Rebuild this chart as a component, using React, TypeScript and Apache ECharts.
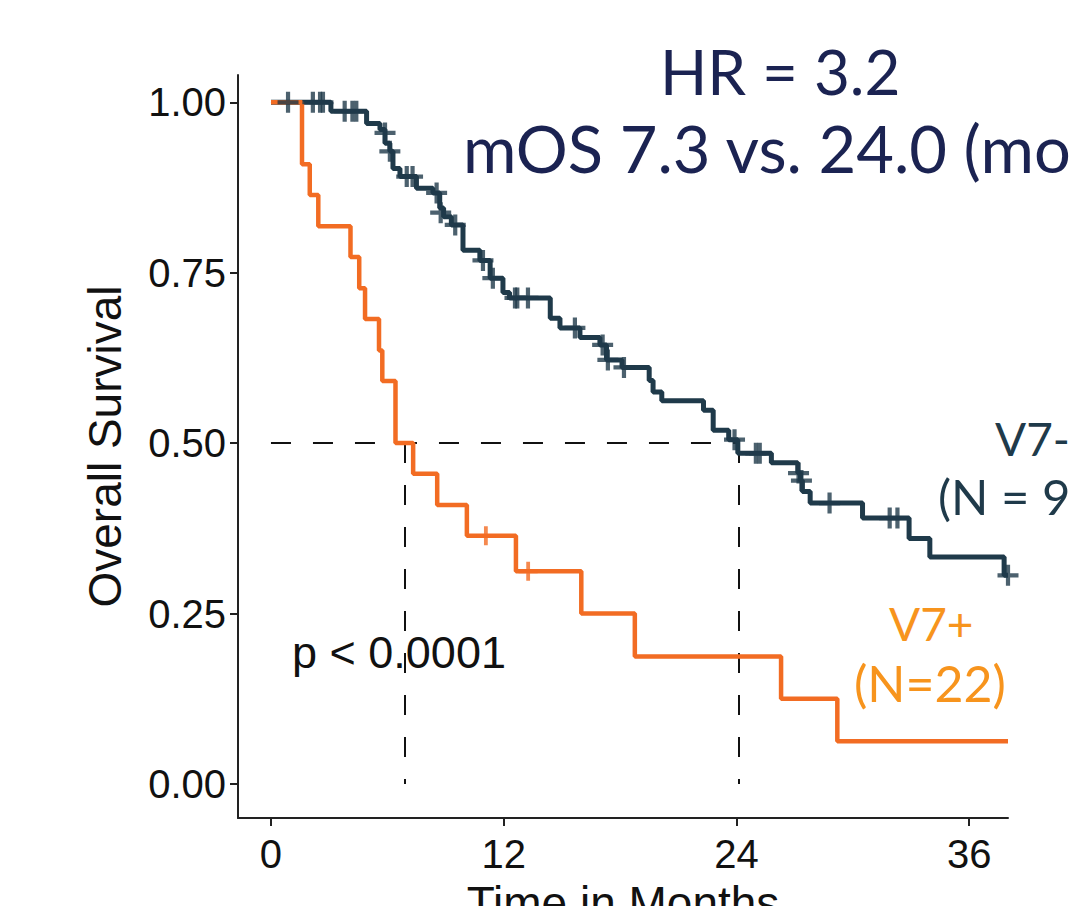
import React, { useEffect, useRef } from "react";
import * as echarts from "echarts";

// Kaplan-Meier steps: [time (months), survival after the event]
const v7PlusSteps: [number, number][] = [
  [0, 1], [1.6, 0.909], [2.0, 0.864], [2.44, 0.818], [4.1, 0.773], [4.55, 0.727],
  [4.85, 0.682], [5.57, 0.636], [5.74, 0.591], [6.42, 0.5], [7.33, 0.455],
  [8.57, 0.409], [10.1, 0.364], [12.63, 0.312], [16.0, 0.25], [18.76, 0.187],
  [26.3, 0.125], [29.2, 0.0625], [38, 0.0625],
];
const v7PlusCensored: [number, number][] = [[11.08, 0.364], [13.26, 0.312]];

const v7MinusSteps: [number, number][] = [
  [0, 1], [3.09, 0.987], [4.93, 0.969], [5.62, 0.96], [5.88, 0.94], [6.13, 0.928],
  [6.29, 0.903], [6.65, 0.891], [7.5, 0.874], [8.35, 0.867], [8.7, 0.845],
  [8.9, 0.832], [9.3, 0.82], [9.9, 0.783], [10.77, 0.768], [11.3, 0.742],
  [11.96, 0.721], [12.3, 0.713], [14.4, 0.683], [14.9, 0.669], [15.93, 0.655],
  [16.96, 0.644], [17.3, 0.622], [18.1, 0.611], [19.5, 0.592], [19.7, 0.575],
  [20.15, 0.562], [22.3, 0.548], [22.8, 0.519], [23.6, 0.505], [24.07, 0.485],
  [25.8, 0.471], [27.16, 0.456], [27.3, 0.445], [27.4, 0.429], [27.8, 0.412],
  [30.5, 0.39], [32.9, 0.36], [33.97, 0.333], [37.8, 0.306], [38, 0.306],
];
const v7MinusCensored: [number, number][] = [
  [0.88, 1], [2.16, 1], [2.53, 1], [2.68, 1], [3.8, 0.987], [4.2, 0.987], [4.4, 0.987],
  [5.88, 0.955], [6.13, 0.928], [7.0, 0.891], [7.3, 0.891], [8.54, 0.867], [8.75, 0.838],
  [9.5, 0.82], [10.93, 0.768], [11.44, 0.742], [12.58, 0.713], [12.7, 0.713],
  [13.25, 0.713], [15.67, 0.669], [17.1, 0.644], [17.37, 0.622], [18.2, 0.611],
  [23.9, 0.505], [25.0, 0.485], [25.2, 0.485], [27.2, 0.456], [27.35, 0.445],
  [28.8, 0.412], [31.9, 0.39], [32.3, 0.39], [38, 0.306],
];

const medians = [6.9, 24.1];
const xTicks = [0, 12, 24, 36];
const yTicks = [0, 0.25, 0.5, 0.75, 1];

const PLUS = "path://M4,0h2v4h4v2h-4v4h-2v-4h-4v-2h4z";
const DARK = "#1f3a4a";
const ORANGE = "#f26c23";
const AXIS_FONT = "'Liberation Sans', Arial, sans-serif";
const TITLE_FONT = "Lato, 'Open Sans', sans-serif";

export default function App() {
  const ref = useRef<HTMLDivElement>(null);
  useEffect(() => {
    document.body.style.margin = "0";
    document.body.style.overflow = "hidden";
    const chart = echarts.init(ref.current!, null, { renderer: "svg", width: 1076, height: 906 });
    const dash = { type: [20, 22] as any, color: "#111", width: 2 };
    chart.setOption({
      animation: false,
      backgroundColor: "#ffffff",
      grid: { left: 238, right: 68, top: 75, bottom: 88, outerBoundsMode: "none", containLabel: false },
      xAxis: {
        type: "value",
        min: -1.7,
        max: 38,
        name: "Time in Months",
        nameLocation: "middle",
        nameGap: 62,
        nameTextStyle: { fontFamily: AXIS_FONT, fontSize: 46, color: "#111" },
        axisLine: { show: true, onZero: false, lineStyle: { color: "#222", width: 2 } },
        axisTick: { show: true, length: 8, lineStyle: { color: "#222", width: 2 }, customValues: xTicks },
        axisLabel: { fontFamily: AXIS_FONT, fontSize: 40, color: "#111", margin: 16, customValues: xTicks },
        splitLine: { show: false },
      },
      yAxis: {
        type: "value",
        min: -0.05,
        max: 1.04,
        name: "Overall Survival",
        nameLocation: "middle",
        nameGap: 110,
        nameTextStyle: { fontFamily: AXIS_FONT, fontSize: 46, color: "#111" },
        axisLine: { show: true, onZero: false, lineStyle: { color: "#222", width: 2 } },
        axisTick: { show: true, length: 8, lineStyle: { color: "#222", width: 2 }, customValues: yTicks },
        axisLabel: {
          fontFamily: AXIS_FONT, fontSize: 40, color: "#111", margin: 12,
          customValues: yTicks, formatter: (v: number) => v.toFixed(2),
        },
        splitLine: { show: false },
      },
      series: [
        {
          type: "line",
          step: "end",
          data: v7MinusSteps,
          symbol: "none",
          lineStyle: { color: DARK, width: 5 },
          z: 3,
        },
        {
          type: "scatter",
          data: v7MinusCensored,
          symbol: PLUS,
          symbolSize: 21,
          itemStyle: { color: DARK },
          z: 4,
        },
        {
          type: "line",
          step: "end",
          data: v7PlusSteps,
          symbol: "none",
          lineStyle: { color: ORANGE, width: 4.5 },
          z: 3,
          markLine: {
            silent: true,
            symbol: ["none", "none"],
            label: { show: false },
            lineStyle: dash,
            z: 2,
            data: [
              [{ coord: [0, 0.5] }, { coord: [medians[1], 0.5] }],
              [{ coord: [medians[0], 0.5] }, { coord: [medians[0], 0] }],
              [{ coord: [medians[1], 0.5] }, { coord: [medians[1], 0] }],
            ],
          },
        },
        {
          type: "scatter",
          data: v7PlusCensored,
          symbol: PLUS,
          symbolSize: 19,
          itemStyle: { color: ORANGE },
          z: 4,
        },
      ],
      graphic: [
        {
          type: "text", left: 660, top: 40,
          style: { text: "HR = 3.2", font: `62px ${TITLE_FONT}`, fill: "#1b2352" },
        },
        {
          type: "text", left: 463, top: 115,
          style: { text: "mOS 7.3 vs. 24.0 (mo", font: `65px ${TITLE_FONT}`, fill: "#1b2352" },
        },
        {
          type: "text", left: 995, top: 415,
          style: { text: "V7-", font: `46px ${TITLE_FONT}`, fill: DARK },
        },
        {
          type: "text", left: 938, top: 471,
          style: { text: "(N = 9", font: `49px ${TITLE_FONT}`, fill: DARK },
        },
        {
          type: "text", left: 889, top: 600,
          style: { text: "V7+", font: `46px ${TITLE_FONT}`, fill: "#f7941d" },
        },
        {
          type: "text", left: 854, top: 658,
          style: { text: "(N=22)", font: `50px ${TITLE_FONT}`, fill: "#f7941d" },
        },
        {
          type: "text", left: 292, top: 630,
          style: { text: "p < 0.0001", font: `45px ${AXIS_FONT}`, fill: "#111" },
        },
      ],
    });
    return () => chart.dispose();
  }, []);
  return <div ref={ref} style={{ width: 1076, height: 906 }} />;
}
